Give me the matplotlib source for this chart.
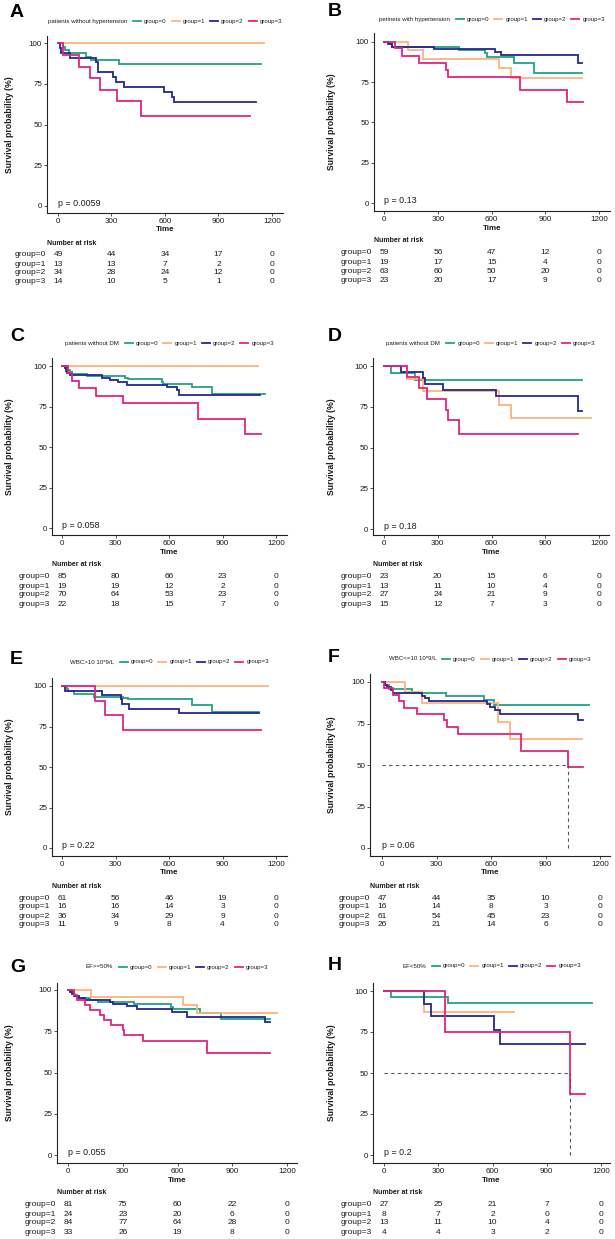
import matplotlib
matplotlib.use('Agg')
import matplotlib.pyplot as plt
from matplotlib.lines import Line2D
import matplotlib.transforms as mtrans

plt.rcParams['font.family'] = ['Liberation Sans', 'DejaVu Sans']

# ---------------- data ----------------
groups = ['group=0', 'group=1', 'group=2', 'group=3']
colors = ['#20A486', '#FBB37C', '#26268F', '#E2247F']
xticks = [0, 300, 600, 900, 1200]
yticks = [0, 25, 50, 75, 100]
risk_times = [0, 300, 600, 900, 1200]

letters = ['A', 'B', 'C', 'D', 'E', 'F', 'G', 'H']
titles = ['patients without hypertension', 'petinets with hypertension',
          'patients without DM', 'patients without DM',
          'WBC>10 10*9/L', 'WBC<=10 10*9/L', 'EF>=50%', 'EF<50%']
pvalues = ['p = 0.0059', 'p = 0.13', 'p = 0.058', 'p = 0.18',
           'p = 0.22', 'p = 0.06', 'p = 0.055', 'p = 0.2']

A_time = [[0, 30, 40, 60, 157, 185, 343, 1140],
          [0, 1153],
          [0, 11, 17, 67, 213, 227, 311, 326, 371, 595, 639, 648, 1110],
          [0, 26, 118, 180, 236, 333, 466, 1079]]
A_surv = [[100, 98.0, 95.9, 93.9, 91.8, 89.8, 87.4, 87.4],
          [100, 100],
          [100, 97.1, 94.1, 91.2, 88.2, 82.4, 79.2, 76.2, 73.0, 70.0, 67.0, 64.0, 64.0],
          [100, 92.9, 85.7, 78.6, 71.4, 64.3, 55.1, 55.1]]
A_risk = [[49, 44, 34, 17, 0], [13, 13, 7, 2, 0], [34, 28, 24, 12, 0], [14, 10, 5, 1, 0]]

B_time = [[0, 32, 45, 417, 562, 572, 726, 838, 1106],
          [0, 130, 218, 640, 706, 1106],
          [0, 22, 45, 276, 618, 652, 1080, 1106],
          [0, 60, 97, 196, 345, 358, 760, 1022, 1112]]
B_surv = [[100, 98.3, 96.6, 94.9, 93.0, 90.8, 86.9, 80.6, 80.6],
          [100, 94.8, 89.5, 83.5, 77.4, 77.4],
          [100, 98.4, 96.8, 95.2, 93.7, 92.0, 87.0, 87.0],
          [100, 95.8, 91.2, 87.0, 82.5, 78.3, 70.4, 62.7, 62.7]]
B_risk = [[59, 56, 47, 12, 0], [19, 17, 15, 4, 0], [63, 60, 50, 20, 0], [23, 20, 17, 9, 0]]

C_time = [[0, 26, 36, 45, 54, 138, 353, 368, 559, 568, 727, 841, 1138],
          [0, 1101],
          [0, 17, 22, 26, 45, 222, 269, 316, 366, 587, 643, 656, 1110],
          [0, 32, 54, 95, 189, 340, 764, 1026, 1114]]
C_surv = [[100, 98.8, 97.6, 96.5, 95.3, 94.1, 92.9, 91.7, 90.3, 88.9, 86.8, 82.9, 82.9],
          [100, 100],
          [100, 98.6, 97.1, 95.7, 94.3, 92.9, 91.4, 90.0, 88.3, 86.9, 85.4, 81.9, 81.9],
          [100, 95.5, 90.9, 86.4, 81.6, 77.4, 67.5, 57.8, 57.8]]
C_risk = [[85, 80, 66, 23, 0], [19, 19, 12, 2, 0], [70, 64, 53, 23, 0], [22, 18, 15, 7, 0]]

D_time = [[0, 37, 171, 1106],
          [0, 128, 218, 640, 708, 1153],
          [0, 97, 218, 227, 331, 624, 1080, 1106],
          [0, 130, 194, 240, 346, 358, 419, 1080]]
D_surv = [[100, 95.7, 91.3, 91.3],
          [100, 92.3, 84.6, 75.9, 67.8, 67.8],
          [100, 96.3, 92.6, 88.9, 85.2, 81.5, 72.4, 72.4],
          [100, 93.3, 86.7, 80.0, 73.3, 66.7, 58.3, 58.3]]
D_risk = [[23, 20, 15, 6, 0], [13, 11, 10, 4, 0], [27, 24, 21, 9, 0], [15, 12, 7, 3, 0]]

E_time = [[0, 26, 36, 67, 181, 340, 370, 729, 841, 1106],
          [0, 1153],
          [0, 15, 224, 329, 338, 374, 654, 1106],
          [0, 185, 239, 340, 1114]]
E_surv = [[100, 98.4, 96.7, 95.1, 93.4, 92.5, 91.7, 88.4, 84.2, 84.2],
          [100, 100],
          [100, 97.2, 94.4, 91.7, 88.9, 86.1, 83.3, 83.3],
          [100, 90.9, 81.8, 72.7, 72.7]]
E_risk = [[61, 56, 46, 19, 0], [16, 16, 14, 3, 0], [36, 34, 29, 9, 0], [11, 9, 8, 4, 0]]

F_time = [[0, 18, 37, 165, 354, 562, 614, 1139],
          [0, 128, 220, 641, 705, 1103],
          [0, 18, 27, 51, 60, 220, 234, 260, 577, 595, 620, 650, 1077, 1108],
          [0, 11, 59, 92, 121, 192, 339, 357, 418, 764, 1026, 1104]]
F_surv = [[100, 97.9, 95.7, 93.6, 91.5, 88.9, 86.4, 86.4],
          [100, 93.8, 87.5, 76.2, 65.7, 65.7],
          [100, 98.4, 96.7, 95.1, 93.4, 91.8, 90.2, 88.3, 86.7, 85.0, 83.3, 80.6, 77.3, 77.3],
          [100, 96.2, 92.3, 88.5, 84.6, 80.8, 76.9, 73.1, 68.4, 58.6, 48.8, 48.8]]
F_risk = [[47, 44, 35, 10, 0], [16, 14, 8, 3, 0], [61, 54, 45, 23, 0], [26, 21, 14, 6, 0]]
F_median = 1026

G_time = [[0, 16, 31, 40, 53, 122, 162, 359, 563, 574, 723, 836, 1105],
          [0, 126, 632, 709, 1146],
          [0, 13, 22, 31, 58, 95, 231, 246, 322, 377, 570, 650, 1080, 1106],
          [0, 31, 49, 95, 118, 173, 195, 237, 299, 308, 413, 760, 1109]]
G_surv = [[100, 98.8, 97.5, 96.3, 95.1, 93.8, 92.6, 91.4, 90.0, 88.6, 86.0, 82.2, 82.2],
          [100, 95.8, 90.9, 86.0, 86.0],
          [100, 98.8, 97.6, 96.4, 95.2, 94.1, 92.9, 91.6, 90.4, 88.3, 86.8, 83.9, 80.6, 80.6],
          [100, 97.0, 93.9, 90.9, 87.9, 84.8, 81.8, 78.8, 75.8, 72.7, 69.3, 61.6, 61.6]]
G_risk = [[81, 75, 60, 22, 0], [24, 23, 20, 6, 0], [84, 77, 64, 28, 0], [33, 26, 19, 8, 0]]

H_time = [[0, 39, 352, 1150],
          [0, 221, 721],
          [0, 221, 260, 607, 642, 1109],
          [0, 338, 1030, 1113]]
H_surv = [[100, 96.3, 92.6, 92.6],
          [100, 87.5, 87.5],
          [100, 92.3, 84.6, 76.2, 67.7, 67.7],
          [100, 75.0, 37.5, 37.5]]
H_risk = [[27, 25, 21, 7, 0], [8, 7, 2, 0, 0], [13, 11, 10, 4, 0], [4, 4, 3, 2, 0]]
H_median = 1030

all_times = [A_time, B_time, C_time, D_time, E_time, F_time, G_time, H_time]
all_surv = [A_surv, B_surv, C_surv, D_surv, E_surv, F_surv, G_surv, H_surv]
all_risk = [A_risk, B_risk, C_risk, D_risk, E_risk, F_risk, G_risk, H_risk]
medians = [None, None, None, None, None, F_median, None, H_median]

# ---------------- layout (pixels) ----------------
W, H = 615, 1239
fig = plt.figure(figsize=(W / 100, H / 100), dpi=100)
fig.patch.set_facecolor('white')

# L, R, T, B, x0px, x1200px, y100px, y0px, letter_y, legend_y
layout = [
    (47, 283, 36, 213, 58, 272, 43.3, 205.7, 12.5, 21),
    (374, 610, 33, 211, 384.3, 599, 41.7, 203.3, 11, 19),
    (52, 287, 358, 535, 62, 276, 366, 528, 336.5, 343),
    (373, 609, 358, 535, 384, 599, 366, 529, 336.5, 343),
    (52, 287, 678, 856, 62, 276, 686, 848, 660, 662),
    (370, 610, 674, 856, 382, 600, 682, 848, 657.5, 659),
    (57, 297, 983, 1163, 68, 287, 990, 1155, 967, 967),
    (373, 610, 983, 1163, 384, 601, 991, 1155, 965, 966),
]

TXT = '#1a1a1a'
TICK_FS = 5.8
RISK_FS = 6.0
LEG_FS = 4.4
renderer = fig.canvas.get_renderer()


def fx(px):
    return px / W


def fy(py):
    return 1 - py / H


def draw_legend(title, cx, cy):
    ttl = fig.text(0, fy(cy), title, fontsize=LEG_FS, ha='left', va='center', color=TXT)
    tw = ttl.get_window_extent(renderer).width
    labs = []
    for g in groups:
        t = fig.text(0, fy(cy), g, fontsize=LEG_FS, ha='left', va='center', color=TXT)
        labs.append((t, t.get_window_extent(renderer).width))
    seg, gap1, gap2, gap0 = 8, 3, 5, 6
    total = tw + gap0 + sum(seg + gap1 + w for _, w in labs) + gap2 * (len(labs) - 1)
    x = cx - total / 2
    ttl.set_x(fx(x))
    x += tw + gap0
    for (t, w), c in zip(labs, colors):
        fig.add_artist(Line2D([fx(x), fx(x + seg)], [fy(cy), fy(cy)], color=c, lw=1.3,
                              transform=fig.transFigure))
        x += seg + gap1
        t.set_x(fx(x))
        x += w + gap2


for i in range(8):
    L, R, T, B, x0, x1200, y100, y0, ly, legy = layout[i]
    ax = fig.add_axes([fx(L), fy(B), (R - L) / W, (B - T) / H])
    k = 1200.0 / (x1200 - x0)
    m = 100.0 / (y0 - y100)
    ax.set_xlim((L - x0) * k, (R - x0) * k)
    ax.set_ylim((y0 - B) * m, (y0 - T) * m)

    for tt, ss, c in zip(all_times[i], all_surv[i], colors):
        ax.step(tt, ss, where='post', color=c, lw=1.3, solid_joinstyle='miter')

    if medians[i] is not None:
        md = medians[i]
        ax.plot([0, md], [50, 50], ls=(0, (3, 3)), color='#555555', lw=0.8)
        ax.plot([md, md], [0, 50], ls=(0, (3, 3)), color='#555555', lw=0.8)

    ax.text(0, 1.5, pvalues[i], fontsize=6.4, ha='left', va='center', color=TXT)

    ax.set_xticks(xticks)
    ax.set_yticks(yticks)
    ax.tick_params(labelsize=TICK_FS, length=2, width=0.6, pad=1.5,
                   colors='#333333', labelcolor=TXT)
    for s in ['top', 'right']:
        ax.spines[s].set_visible(False)
    for s in ['left', 'bottom']:
        ax.spines[s].set_linewidth(0.8)
        ax.spines[s].set_color('#222222')
    ax.set_facecolor('white')

    # labels
    cxp = (L + R) / 2
    fig.text(fx(cxp), fy(B + 17), 'Time', fontsize=5.8, fontweight='bold',
             ha='center', va='center', color=TXT)
    ylx = 10 if L < 300 else 331
    fig.text(fx(ylx), fy((T + B) / 2), 'Survival probability (%)', fontsize=6.2,
             fontweight='bold', rotation=90, ha='center', va='center', color=TXT)
    lx = 10 if L < 300 else 328
    fig.text(fx(lx), fy(ly), letters[i], fontsize=14, fontweight='bold',
             ha='left', va='center', color='black')

    draw_legend(titles[i], cxp, legy)

    # risk table
    fig.text(fx(L), fy(B + 30), 'Number at risk', fontsize=5.0, fontweight='bold',
             ha='left', va='center', color=TXT)
    trans = mtrans.blended_transform_factory(ax.transData, fig.transFigure)
    for gi, (g, row) in enumerate(zip(groups, all_risk[i])):
        yy = fy(B + 42 + 9 * gi)
        fig.text(fx(x0 - 12), yy, g, fontsize=RISK_FS, ha='right', va='center', color=TXT)
        for t, n in zip(risk_times, row):
            ax.text(t, yy, str(n), transform=trans, fontsize=RISK_FS, ha='center',
                    va='center', color=TXT, clip_on=False)

fig.savefig('out.png', dpi=100, facecolor='white')
